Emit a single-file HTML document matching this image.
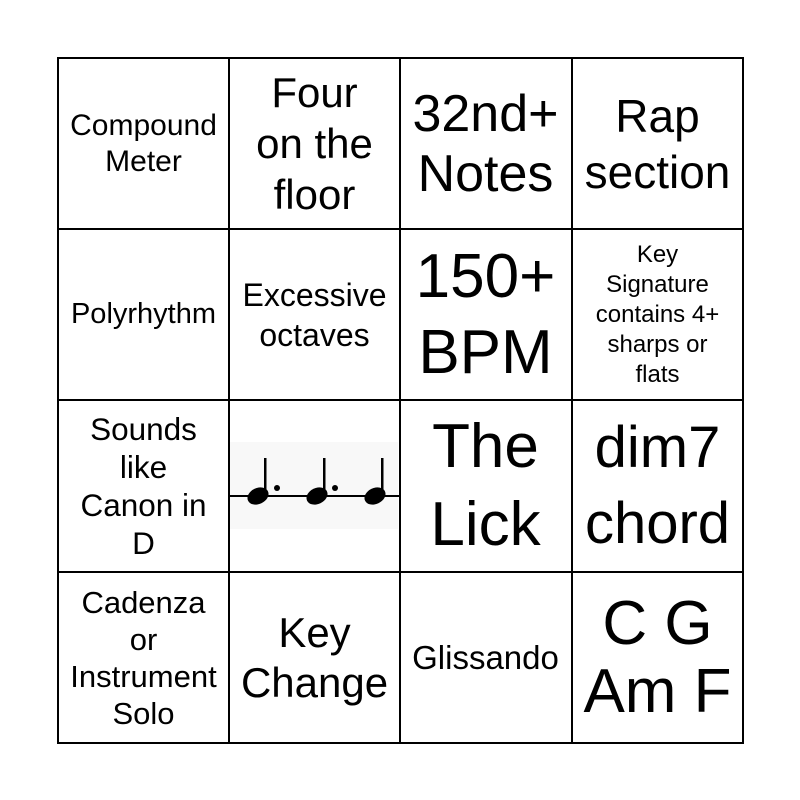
<!DOCTYPE html>
<html><head><style>
body{margin:0;width:800px;height:800px;background:#fff;position:relative;font-family:"Liberation Sans",Arial,Helvetica,sans-serif;overflow:hidden}
.c{position:absolute;width:171px;height:171px;display:flex;align-items:center;justify-content:center;text-align:center;color:#000;font-family:"Liberation Sans",Arial,Helvetica,sans-serif;white-space:nowrap}
.gl{position:absolute;background:#000}
</style></head><body>
<div class="gl" style="left:57px;top:57px;width:687px;height:2px"></div>
<div class="gl" style="left:57px;top:228px;width:687px;height:2px"></div>
<div class="gl" style="left:57px;top:399px;width:687px;height:2px"></div>
<div class="gl" style="left:57px;top:571px;width:687px;height:2px"></div>
<div class="gl" style="left:57px;top:742px;width:687px;height:2px"></div>
<div class="gl" style="top:57px;left:57px;height:687px;width:2px"></div>
<div class="gl" style="top:57px;left:228px;height:687px;width:2px"></div>
<div class="gl" style="top:57px;left:399px;height:687px;width:2px"></div>
<div class="gl" style="top:57px;left:571px;height:687px;width:2px"></div>
<div class="gl" style="top:57px;left:742px;height:687px;width:2px"></div>

<div class="c" style="left:58px;top:58px;font-size:30px;line-height:36px">Compound<br>Meter</div>
<div class="c" style="left:229px;top:58px;font-size:42px;line-height:51px">Four<br>on the<br>floor</div>
<div class="c" style="left:400px;top:58px;font-size:52px;line-height:60px">32nd+<br>Notes</div>
<div class="c" style="left:572px;top:58px;font-size:46px;line-height:56px">Rap<br>section</div>

<div class="c" style="left:58px;top:229px;font-size:29px">Polyrhythm</div>
<div class="c" style="left:229px;top:229px;font-size:32px;line-height:40px">Excessive<br>octaves</div>
<div class="c" style="left:400px;top:229px;font-size:62px;line-height:76px">150+<br>BPM</div>
<div class="c" style="left:572px;top:229px;font-size:24px;line-height:30px">Key<br>Signature<br>contains 4+<br>sharps or<br>flats</div>

<div class="c" style="left:58px;top:400px;font-size:31.5px;line-height:38px">Sounds<br>like<br>Canon in<br>D</div>
<div class="c" style="left:229px;top:400px">
<svg width="171" height="171" viewBox="229 400 171 171" style="position:absolute;left:0;top:0">
<rect x="230" y="442" width="168" height="87" fill="#f8f8f8"/>
<line x1="229" y1="496" x2="400" y2="496" stroke="#000" stroke-width="2"/>
<g fill="#000">
<ellipse cx="258" cy="496" rx="11" ry="8" transform="rotate(-25 258 496)"/>
<rect x="264" y="458" width="2.5" height="37"/>
<circle cx="277" cy="488" r="3"/>
<ellipse cx="317" cy="496" rx="11" ry="8" transform="rotate(-25 317 496)"/>
<rect x="323" y="458" width="2.5" height="37"/>
<circle cx="335" cy="488" r="3"/>
<ellipse cx="375" cy="496" rx="11" ry="8" transform="rotate(-25 375 496)"/>
<rect x="381" y="458" width="2.5" height="37"/>
</g></svg></div>
<div class="c" style="left:400px;top:400px;font-size:62px;line-height:78px">The<br>Lick</div>
<div class="c" style="left:572px;top:400px;font-size:58px;line-height:76px">dim7<br>chord</div>

<div class="c" style="left:58px;top:572px;font-size:31px;line-height:37px">Cadenza<br>or<br>Instrument<br>Solo</div>
<div class="c" style="left:229px;top:572px;font-size:42px;line-height:50px">Key<br>Change</div>
<div class="c" style="left:400px;top:572px;font-size:33px">Glissando</div>
<div class="c" style="left:572px;top:572px;font-size:62px;line-height:68px">C G<br>Am F</div>
</body></html>
